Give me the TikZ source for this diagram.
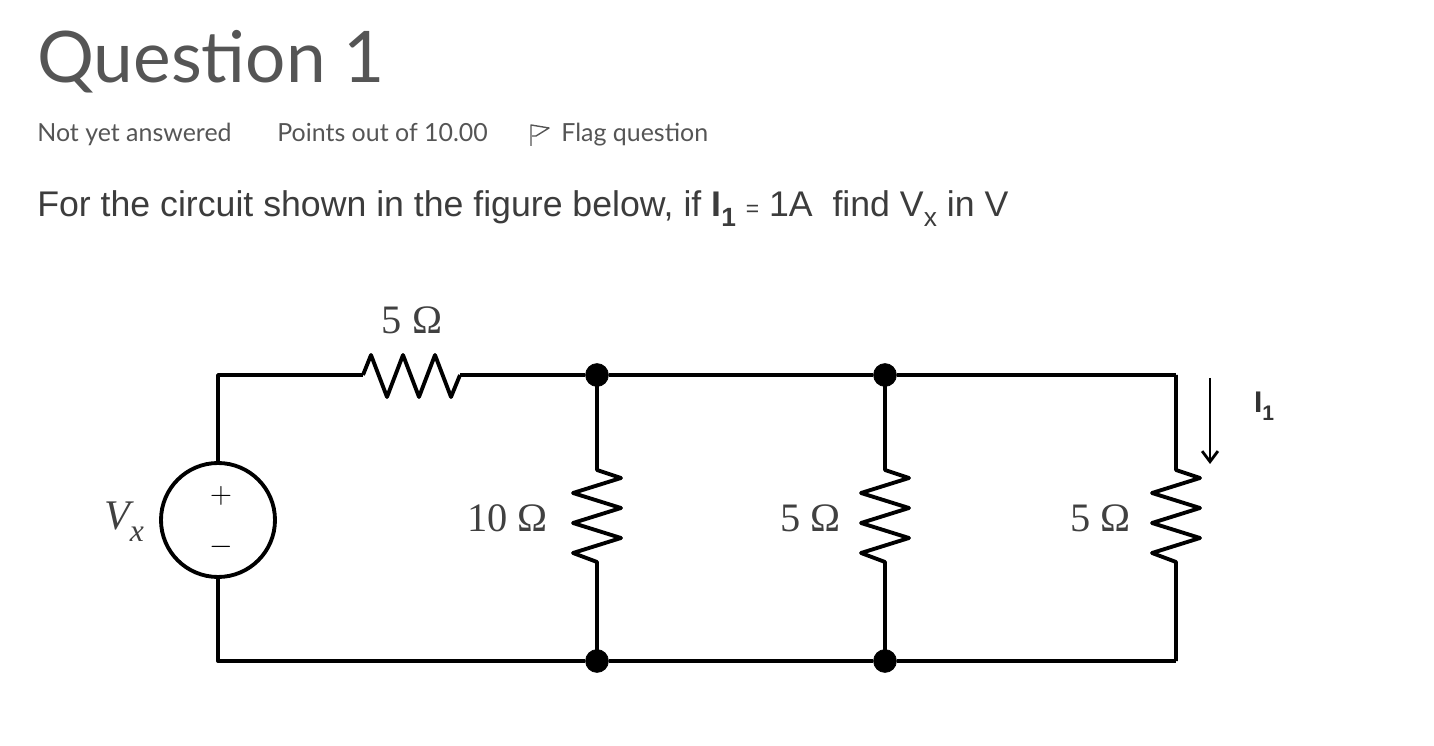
\documentclass[tikz,border=0pt]{standalone}
\usepackage{fontspec}
\setmainfont{Liberation Sans}
\newfontfamily\headfont{Lato}
\newfontfamily\circfont{Liberation Serif}
\usetikzlibrary{positioning,arrows.meta}
\definecolor{headgray}{RGB}{85,85,85}
\definecolor{textgray}{RGB}{60,60,60}
\newcommand{\sub}[2]{\raisebox{-0.28em}{\fontsize{#1}{#1}\selectfont #2}}
\begin{document}
\begin{tikzpicture}[x=0.02cm,y=-0.02cm,
  dot/.style={circle,draw,fill=black,inner sep=0pt,minimum width=13pt},
  wire/.style={line width=2.2pt,line join=round},
  lbl/.style={font=\circfont\fontsize{23}{23}\selectfont,text=black!75},
  txt/.style={anchor=base west,inner sep=0pt},
  meta/.style={txt,text=headgray,font=\headfont\fontsize{14.2}{15}\selectfont}]
\useasboundingbox (0,0) rectangle (1434,746);

% header
\node[txt,text=headgray,font=\headfont\fontsize{40.5}{41}\selectfont] (title) at (37,83) {Question 1};
\node[meta] (state) at (37,142) {Not yet answered};
\node[meta] (points) at (277,142) {Points out of 10.00};
\draw[headgray,line width=0.8pt,line join=round] (531,146) -- (531,125) -- (549,128) -- (536,136) -- (532,136);
\node[meta] (flag) at (561,142) {Flag question};
\node[txt,text=textgray,font=\fontsize{20.3}{21}\selectfont] (question) at (37,217)
  {For the circuit shown in the figure below, if \textbf{I\sub{15}{1}} {\fontsize{13}{13}\selectfont =} 1A\ \ find V\sub{15}{x} in V};

% nodes
\node[circle,draw,line width=2.2pt,minimum size=114*0.02cm,inner sep=0pt] (vx) at (218,520) {};
\node[font=\fontsize{16}{16}\selectfont] at (221,496) {$+$};
\node[font=\fontsize{16}{16}\selectfont] at (221,547) {$-$};
\node[dot] (a) at (597,375) {};
\node[dot] (b) at (885,375) {};
\node[dot] (c) at (597,661) {};
\node[dot] (d) at (885,661) {};
\coordinate (tl) at (218,375);
\coordinate (bl) at (218,661);
\coordinate (tr) at (1176,375);
\coordinate (br) at (1176,661);
\coordinate (r1a) at (363,375);
\coordinate (r1b) at (460,375);

% wires
\draw[wire] (vx) -- (tl) -- (r1a);
\draw[wire] (r1b) -- (a) -- (b) -- (tr);
\draw[wire] (vx) -- (bl) -- (c) -- (d) -- (br);
\draw[wire] (r1a) -- ++(8,-20) -- ++(16,42) -- ++(16,-42) -- ++(16,42) -- ++(16,-42) -- ++(16,42) -- (r1b);
\foreach \x/\n in {597/p,885/q,1176/r}{
  \coordinate (\n top) at (\x,470);
  \coordinate (\n bot) at (\x,562);
  \draw[wire] (\x,375) -- (\n top) -- ++(24,8) -- ++(-48,15) -- ++(48,15) -- ++(-48,15) -- ++(48,15) -- ++(-48,15) -- (\n bot) -- (\x,661);
}

% labels
\node[lbl] (r1) at (412,320) {5 Ω};
\node[lbl,anchor=east] (r2) at (554,518) {10 Ω};
\node[lbl,anchor=east] (r3) at (847,518) {5 Ω};
\node[lbl,anchor=east] (r4) at (1137,518) {5 Ω};
\node[lbl,font=\circfont\itshape\fontsize{24}{24}\selectfont] (vlbl) at (124,522) {V\sub{18}{x}};
\coordinate (i1a) at (1210,378);
\coordinate (i1b) at (1210,464);
\draw[line width=1.6pt,-{Straight Barb[length=6pt,width=9pt]}] (i1a) -- (i1b);
\node[font=\bfseries\fontsize{17}{17}\selectfont,text=black!80] (i1) at (1264,406) {I\sub{12}{1}};
\end{tikzpicture}
\end{document}
